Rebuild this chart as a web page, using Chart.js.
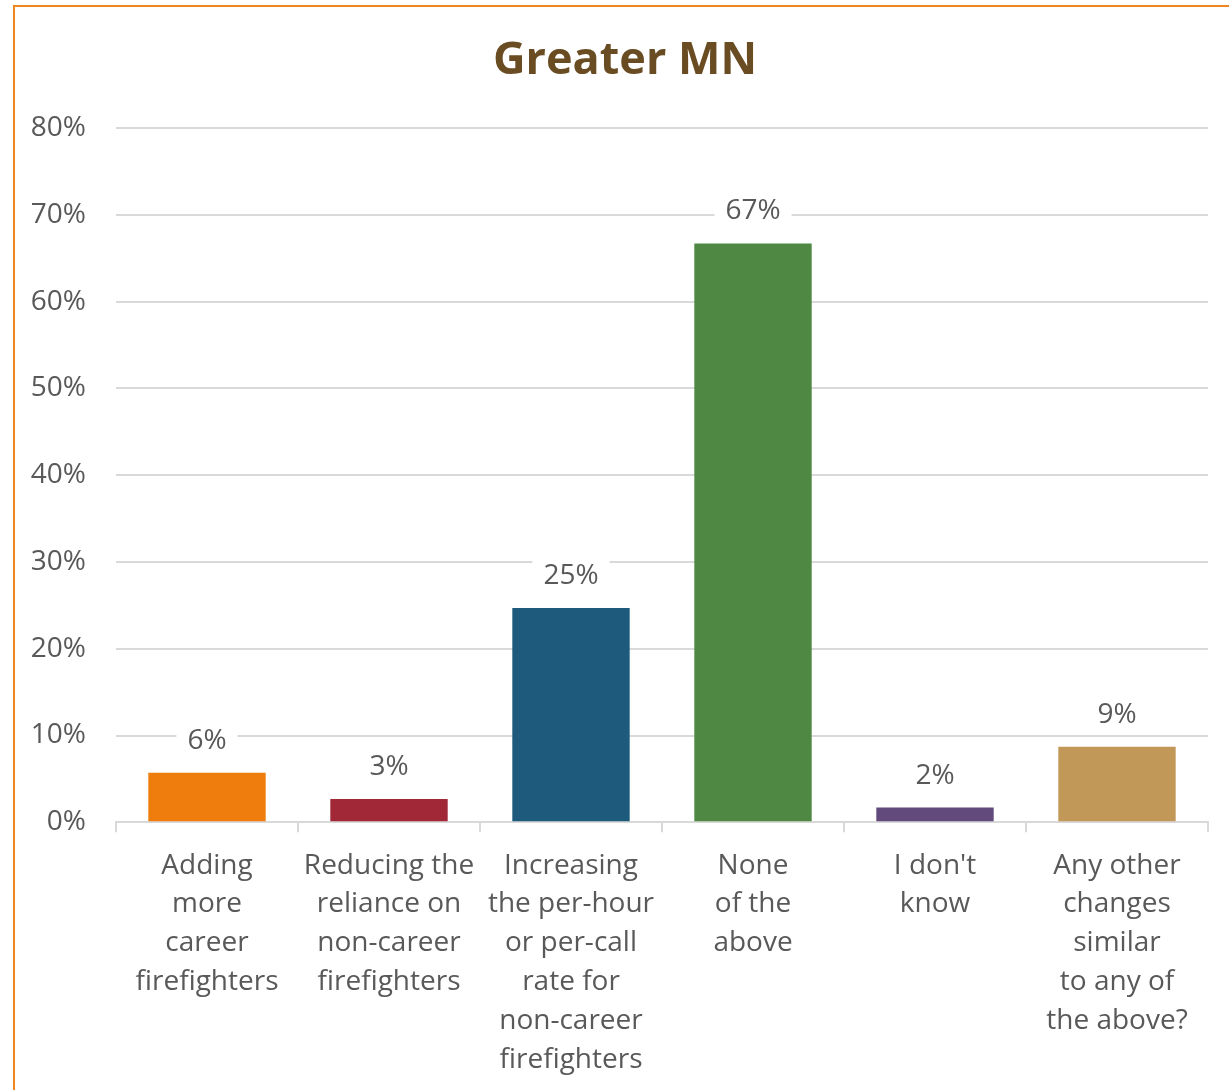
<!DOCTYPE html>
<html>
<head>
<meta charset="utf-8">
<script src="https://cdn.jsdelivr.net/npm/chart.js@4"></script>
<style>
  html, body { margin: 0; padding: 0; background: #fff; overflow: hidden; }
  #frame {
    position: absolute; left: 13px; top: 5px; width: 3000px; height: 3000px;
    border-left: 2px solid #F0861E; border-top: 2px solid #F0861E;
  }
  #wrap { position: absolute; left: 0; top: 0; width: 1229px; height: 1090px; }
</style>
</head>
<body>
<div id="frame"></div>
<div id="wrap"><canvas id="chart"></canvas></div>
<script>
const title = 'Greater MN';
const categories = [
    ['Adding', 'more', 'career', 'firefighters'],
    ['Reducing the', 'reliance on', 'non-career', 'firefighters'],
    ['Increasing', 'the per-hour', 'or per-call', 'rate for', 'non-career', 'firefighters'],
    ['None', 'of the', 'above'],
    ["I don't", 'know'],
    ['Any other', 'changes', 'similar', 'to any of', 'the above?'],
];
const values = [5.7, 2.7, 24.7, 66.7, 1.7, 8.7];
const labels = ['6%', '3%', '25%', '67%', '2%', '9%'];
const barColors = ['#EE7D0E', '#A12837', '#1E5A7B', '#4E8843', '#624A7D', '#C29858'];
const yTicks = [0, 10, 20, 30, 40, 50, 60, 70, 80];

const textColor = '#595959';
const fontFamily = '"Open Sans", "Liberation Sans", sans-serif';

// labels above the bars, on a white box so the gridline is cut
const valueLabels = {
    id: 'valueLabels',
    afterDatasetsDraw(chart) {
        const ctx = chart.ctx;
        const meta = chart.getDatasetMeta(0);
        ctx.save();
        ctx.font = '28px ' + fontFamily;
        ctx.textAlign = 'center';
        ctx.textBaseline = 'middle';
        meta.data.forEach((bar, i) => {
            const y = bar.y - 33;
            const w = ctx.measureText(labels[i]).width + 22;
            ctx.fillStyle = '#fff';
            ctx.fillRect(bar.x - w / 2, y - 17, w, 34);
            ctx.fillStyle = textColor;
            ctx.fillText(labels[i], bar.x, y + 1);
        });
        ctx.restore();
    }
};

// title centred inside the orange frame
const frameTitle = {
    id: 'frameTitle',
    afterDraw(chart) {
        const ctx = chart.ctx;
        ctx.save();
        ctx.font = 'bold 45px ' + fontFamily;
        ctx.fillStyle = '#6A4C23';
        ctx.textAlign = 'center';
        ctx.textBaseline = 'middle';
        ctx.fillText(title, (chart.width + 21) / 2, 61);
        ctx.restore();
    }
};

new Chart(document.getElementById('chart').getContext('2d'), {
    type: 'bar',
    data: {
        labels: categories,
        datasets: [{
            data: values,
            backgroundColor: barColors,
            borderWidth: 0,
            barPercentage: 0.645,
            categoryPercentage: 1,
        }],
    },
    options: {
        responsive: true,
        maintainAspectRatio: false,
        animation: false,
        layout: { padding: { left: 21, right: 21, top: 128, bottom: -3 } },
        plugins: {
            legend: { display: false },
            tooltip: { enabled: false },
            title: { display: false },
        },
        scales: {
            x: {
                grid: { drawOnChartArea: false, drawTicks: true, tickLength: 10, color: '#D9D9D9', lineWidth: 2 },
                border: { color: '#D9D9D9', width: 2 },
                ticks: {
                    color: textColor,
                    font: { family: fontFamily, size: 28, lineHeight: 1.385 },
                    padding: 14,
                    maxRotation: 0,
                    autoSkip: false,
                },
            },
            y: {
                min: 0,
                max: 80,
                afterFit(scale) { scale.width = 95; },
                afterBuildTicks(scale) { scale.ticks = yTicks.map(v => ({ value: v })); },
                grid: { color: '#D9D9D9', lineWidth: 2, drawTicks: false },
                border: { display: false },
                ticks: {
                    color: textColor,
                    font: { family: fontFamily, size: 28 },
                    padding: 30,
                    callback: v => v + '%',
                },
            },
        },
    },
    plugins: [valueLabels, frameTitle],
});
</script>
</body>
</html>
